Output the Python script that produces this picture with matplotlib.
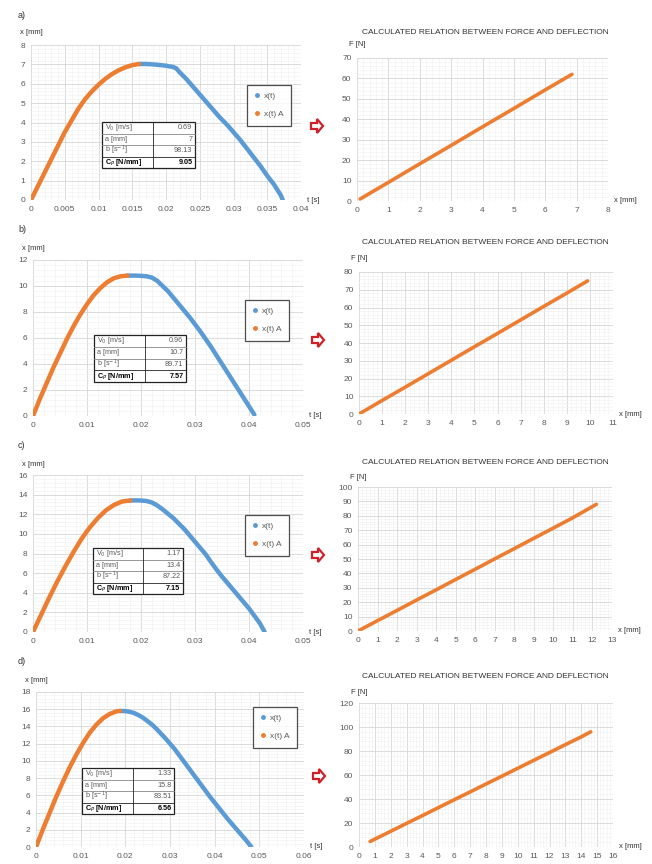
import numpy as np
import matplotlib
matplotlib.use("Agg")
import matplotlib.pyplot as plt
from matplotlib.lines import Line2D
from matplotlib.patches import Polygon, Rectangle
from matplotlib.ticker import MultipleLocator

plt.rcParams['font.family'] = ['Liberation Sans', 'DejaVu Sans']

BLUE = "#5B9BD5"
ORANGE = "#ED7D31"
GRAY_TXT = "#595959"

# ---- datos ----
# a)
t_fit_a = [0, 0.001, 0.002, 0.003, 0.004, 0.005, 0.006, 0.007, 0.008, 0.009, 0.010,
           0.011, 0.012, 0.013, 0.014, 0.015, 0.016]
x_fit_a = [0, 0.7, 1.4, 2.1, 2.8, 3.5, 4.1, 4.7, 5.2, 5.6, 5.95,
           6.25, 6.5, 6.7, 6.85, 6.96, 7.02]
t_med_a = [0.016, 0.017, 0.018, 0.019, 0.020, 0.021, 0.0215, 0.022, 0.023, 0.024, 0.025, 0.026,
           0.027, 0.028, 0.029, 0.030, 0.031, 0.032, 0.033, 0.034, 0.035, 0.036, 0.037, 0.0373]
x_med_a = [7.02, 7.02, 7.0, 6.97, 6.93, 6.87, 6.8, 6.6, 6.25, 5.85, 5.45, 5.05,
           4.65, 4.25, 3.9, 3.5, 3.1, 2.65, 2.2, 1.75, 1.25, 0.8, 0.25, 0]
defl_a = [0.1, 1, 2, 3, 4, 5, 6, 6.85]
force_a = [1, 9.1, 18.2, 27.2, 36.3, 45.3, 54.4, 62]
tabla_a = ["0.69", "7", "98.13", "9.05"]

# b)
t_fit_b = [0, 0.00125, 0.0025, 0.00375, 0.005, 0.00625, 0.0075, 0.00875, 0.010,
           0.01125, 0.0125, 0.01375, 0.015, 0.01625, 0.0175]
x_fit_b = [0, 1.3, 2.5, 3.7, 4.8, 5.9, 6.9, 7.8, 8.6, 9.3, 9.85, 10.3, 10.6, 10.75, 10.8]
t_med_b = [0.0175, 0.019, 0.020, 0.021, 0.022, 0.023, 0.024, 0.025, 0.026, 0.027, 0.028, 0.029,
           0.030, 0.031, 0.032, 0.033, 0.034, 0.035, 0.036, 0.037, 0.038, 0.039, 0.040, 0.041]
x_med_b = [10.8, 10.8, 10.78, 10.75, 10.65, 10.4, 10.0, 9.6, 9.1, 8.6, 8.1, 7.6,
           7.05, 6.5, 5.9, 5.3, 4.65, 4.0, 3.35, 2.7, 2.05, 1.4, 0.75, 0.1]
defl_b = [0, 1, 2, 3, 4, 5, 6, 7, 8, 9, 9.9]
force_b = [0, 7.6, 15.1, 22.7, 30.3, 37.9, 45.4, 53, 60.6, 68.1, 75]
tabla_b = ["0.96", "10.7", "89.71", "7.57"]

# c)
t_fit_c = [0, 0.0015, 0.003, 0.0045, 0.006, 0.0075, 0.009, 0.0105, 0.012, 0.0135, 0.015, 0.0165, 0.018]
x_fit_c = [0, 1.75, 3.5, 5.15, 6.7, 8.15, 9.5, 10.65, 11.6, 12.4, 12.95, 13.3, 13.4]
t_med_c = [0.018, 0.019, 0.020, 0.021, 0.022, 0.023, 0.024, 0.025, 0.026, 0.027, 0.028, 0.029, 0.030,
           0.031, 0.032, 0.033, 0.034, 0.035, 0.036, 0.037, 0.038, 0.039, 0.040, 0.041, 0.042, 0.0429]
x_med_c = [13.4, 13.42, 13.4, 13.35, 13.2, 12.9, 12.5, 12.05, 11.6, 11.05, 10.5, 9.85, 9.2,
           8.55, 7.9, 7.1, 6.35, 5.65, 5.0, 4.35, 3.7, 3.05, 2.4, 1.65, 0.9, 0]
defl_c = [0, 1, 2, 3, 4, 5, 6, 7, 8, 9, 10, 11, 12.2]
force_c = [0, 7.2, 14.3, 21.5, 28.6, 35.8, 42.9, 50.1, 57.2, 64.4, 71.5, 78.7, 88]
tabla_c = ["1.17", "13.4", "87.22", "7.15"]

# d)
t_fit_d = [0, 0.0015, 0.003, 0.0045, 0.006, 0.0075, 0.009, 0.0105, 0.012, 0.0135, 0.015, 0.0165, 0.018, 0.0188]
x_fit_d = [0, 2.0, 3.9, 5.8, 7.55, 9.2, 10.7, 12.05, 13.25, 14.2, 14.95, 15.45, 15.75, 15.8]
t_med_d = [0.0188, 0.020, 0.021, 0.022, 0.023, 0.024, 0.025, 0.026, 0.027, 0.028, 0.029, 0.030,
           0.031, 0.032, 0.033, 0.034, 0.035, 0.036, 0.037, 0.038, 0.039, 0.040, 0.041, 0.042,
           0.043, 0.044, 0.045, 0.046, 0.047, 0.048, 0.0482]
x_med_d = [15.8, 15.78, 15.7, 15.55, 15.3, 15.0, 14.6, 14.2, 13.7, 13.15, 12.6, 12.0,
           11.4, 10.7, 10.0, 9.3, 8.6, 7.9, 7.2, 6.5, 5.8, 5.15, 4.5, 3.85,
           3.2, 2.6, 2.0, 1.4, 0.8, 0.15, 0]
defl_d = [0.7, 2, 3, 4, 5, 6, 7, 8, 9, 10, 11, 12, 13, 14, 14.6]
force_d = [4.6, 13.1, 19.7, 26.2, 32.8, 39.4, 45.9, 52.5, 59, 65.6, 72.2, 78.7, 85.3, 91.8, 96]
tabla_d = ["1.33", "15.8", "83.51", "6.56"]

filas_tabla = ["V$_0$ [m/s]", "a [mm]", "b [s$^{-1}$]", "C$_P$ [N/mm]"]

paneles = [
    dict(letra="a)", tf=t_fit_a, xf=x_fit_a, tm=t_med_a, xm=x_med_a, dx=defl_a, F=force_a, tab=tabla_a,
         txmax=0.04, txstep=0.005, tlabels=["0", "0.005", "0.01", "0.015", "0.02", "0.025", "0.03", "0.035", "0.04"],
         xmax=8, xstep=1, xmaxF=8, Fmax=70, Fstep=10,
         izq=(31, 301, 45, 200), der=(357, 608, 58, 201), lbl_y=15, xmm_y=32, tit_y=33, fn_y=45,
         tabla=(102, 195, 122, 168), leyenda=(247, 85), flecha=(317, 126)),
    dict(letra="b)", tf=t_fit_b, xf=x_fit_b, tm=t_med_b, xm=x_med_b, dx=defl_b, F=force_b, tab=tabla_b,
         txmax=0.05, txstep=0.01, tlabels=["0", "0.01", "0.02", "0.03", "0.04", "0.05"],
         xmax=12, xstep=2, xmaxF=11, Fmax=80, Fstep=10,
         izq=(33, 303, 260, 416), der=(359, 613, 272, 414), lbl_y=230, xmm_y=248, tit_y=243, fn_y=258,
         tabla=(94, 186, 335, 382), leyenda=(245, 300), flecha=(318, 340)),
    dict(letra="c)", tf=t_fit_c, xf=x_fit_c, tm=t_med_c, xm=x_med_c, dx=defl_c, F=force_c, tab=tabla_c,
         txmax=0.05, txstep=0.01, tlabels=["0", "0.01", "0.02", "0.03", "0.04", "0.05"],
         xmax=16, xstep=2, xmaxF=13, Fmax=100, Fstep=10,
         izq=(33, 303, 475, 632), der=(358, 612, 487, 631), lbl_y=445, xmm_y=464, tit_y=463, fn_y=478,
         tabla=(93, 183, 548, 594), leyenda=(245, 515), flecha=(318, 555)),
    dict(letra="d)", tf=t_fit_d, xf=x_fit_d, tm=t_med_d, xm=x_med_d, dx=defl_d, F=force_d, tab=tabla_d,
         txmax=0.06, txstep=0.01, tlabels=["0", "0.01", "0.02", "0.03", "0.04", "0.05", "0.06"],
         xmax=18, xstep=2, xmaxF=16, Fmax=120, Fstep=20,
         izq=(36, 304, 692, 847), der=(359, 613, 703, 847), lbl_y=661, xmm_y=680, tit_y=677, fn_y=692,
         tabla=(82, 174, 768, 814), leyenda=(253, 707), flecha=(319, 776)),
]

W, H = 652, 864
fig = plt.figure(figsize=(W / 100, H / 100), dpi=100)


def caja(x0, x1, y0, y1):
    return [x0 / W, 1 - y1 / H, (x1 - x0) / W, (y1 - y0) / H]


def estilo(ax):
    for s in ax.spines.values():
        s.set_visible(False)
    ax.tick_params(which="both", length=0, labelsize=6, colors=GRAY_TXT, pad=4)
    ax.grid(which="major", color="#d6d6d6", lw=0.6)
    ax.grid(which="minor", color="#efefef", lw=0.4)
    ax.set_axisbelow(True)


for p in paneles:
    # ---- x(t) ----
    ax = fig.add_axes(caja(*p["izq"]))
    estilo(ax)
    ax.plot(p["tm"], p["xm"], color=BLUE, lw=3.2, solid_capstyle="round", solid_joinstyle="round")
    ax.plot(p["tf"], p["xf"], color=ORANGE, lw=3.2, solid_capstyle="round", solid_joinstyle="round")
    ax.set_xlim(0, p["txmax"])
    ax.set_ylim(0, p["xmax"])
    ax.set_xticks(np.arange(len(p["tlabels"])) * p["txstep"])
    ax.set_xticklabels(p["tlabels"])
    ax.yaxis.set_major_locator(MultipleLocator(p["xstep"]))
    ax.xaxis.set_minor_locator(MultipleLocator(p["txstep"] / 5))
    ax.yaxis.set_minor_locator(MultipleLocator(p["xstep"] / 5))

    hs = [Line2D([], [], ls="none", marker="o", ms=2.5, color=BLUE),
          Line2D([], [], ls="none", marker="o", ms=2.5, color=ORANGE)]
    x0, x1, y0, y1 = p["izq"]
    lx, ly = p["leyenda"]
    leg = ax.legend(hs, ["x(t)", "x(t) A"], loc="upper left",
                    bbox_to_anchor=((lx - x0) / (x1 - x0), (y1 - ly) / (y1 - y0)),
                    fontsize=6, frameon=True, fancybox=False, borderpad=0.9, labelspacing=1.2,
                    handlelength=0.6, handletextpad=0.5, borderaxespad=0)
    leg.get_frame().set_edgecolor("#222222")
    leg.get_frame().set_linewidth(0.9)
    for t in leg.get_texts():
        t.set_color(GRAY_TXT)

    # tabla de parametros
    tx0, tx1, ty0, ty1 = p["tabla"]
    fx0, fx1 = tx0 / W, tx1 / W
    fy_top, fy_bot = 1 - ty0 / H, 1 - ty1 / H
    div = fx0 + 0.55 * (fx1 - fx0)
    fig.patches.append(Rectangle((fx0, fy_bot), fx1 - fx0, fy_top - fy_bot, transform=fig.transFigure,
                                 facecolor="white", edgecolor="#222222", lw=0.9, zorder=5))
    hrow = (fy_top - fy_bot) / 4
    for i, (nom, val) in enumerate(zip(filas_tabla, p["tab"])):
        yc = fy_top - (i + 0.5) * hrow
        peso = "bold" if i == 3 else "normal"
        col = "black" if i == 3 else GRAY_TXT
        fig.text(fx0 + 0.004, yc, nom, fontsize=5.2, ha="left", va="center", weight=peso, color=col, zorder=6)
        fig.text(fx1 - 0.004, yc, val, fontsize=5.2, ha="right", va="center", weight=peso, color=col, zorder=6)
        if i > 0:
            fig.lines.append(Line2D([fx0, fx1], [fy_top - i * hrow] * 2, transform=fig.transFigure,
                                    color="#888888" if i < 3 else "#222222", lw=0.6, zorder=6))
    fig.lines.append(Line2D([div, div], [fy_bot, fy_top], transform=fig.transFigure,
                            color="#222222", lw=0.6, zorder=6))

    fig.text(18 / W, 1 - p["lbl_y"] / H, p["letra"], fontsize=6.5, va="center", ha="left", color="#333333")
    fig.text((x0 - 11) / W, 1 - p["xmm_y"] / H, "x [mm]", fontsize=5.5, va="center", ha="left", color="#333333")
    fig.text((x1 + 6) / W, 1 - y1 / H, "t [s]", fontsize=5.5, va="center", ha="left", color="#333333")

    # flecha
    ax_c, ay_c = p["flecha"]
    pts = np.array([[-6, -3], [0, -3], [0, -7], [6, 0], [0, 7], [0, 3], [-6, 3]], dtype=float)
    pts[:, 0] = (ax_c + pts[:, 0]) / W
    pts[:, 1] = 1 - (ay_c + pts[:, 1]) / H
    fig.patches.append(Polygon(pts, closed=True, transform=fig.transFigure, facecolor="white",
                               edgecolor="#d0202a", lw=1.6, joinstyle="miter"))

    # ---- F(x) ----
    ax2 = fig.add_axes(caja(*p["der"]))
    estilo(ax2)
    ax2.plot(p["dx"], p["F"], color=ORANGE, lw=2.6, solid_capstyle="round")
    ax2.set_xlim(0, p["xmaxF"])
    ax2.set_ylim(0, p["Fmax"])
    ax2.xaxis.set_major_locator(MultipleLocator(1))
    ax2.yaxis.set_major_locator(MultipleLocator(p["Fstep"]))
    ax2.xaxis.set_minor_locator(MultipleLocator(0.2))
    ax2.yaxis.set_minor_locator(MultipleLocator(p["Fstep"] / 5))
    rx0, rx1, ry0, ry1 = p["der"]
    fig.text(485 / W, 1 - p["tit_y"] / H, "CALCULATED RELATION BETWEEN FORCE AND DEFLECTION",
             fontsize=6, ha="center", va="center", color="#333333")
    fig.text((rx0 - 8) / W, 1 - p["fn_y"] / H, "F [N]", fontsize=5.5, ha="left", va="center", color="#333333")
    fig.text((rx1 + 6) / W, 1 - ry1 / H, "x [mm]", fontsize=5.5, ha="left", va="center", color="#333333")

fig.savefig("out.png", dpi=100)
